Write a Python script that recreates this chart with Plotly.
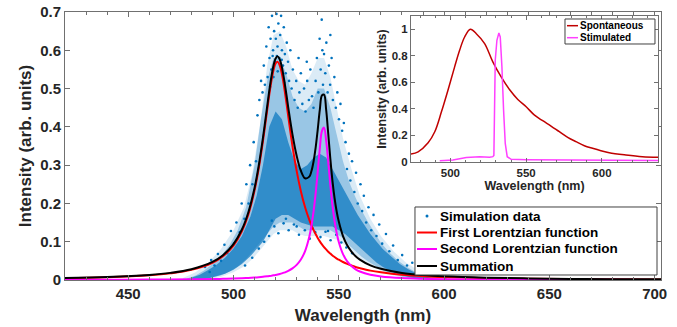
import plotly.graph_objects as go

# ---------------- main panel data ----------------
wl = [420, 440, 460, 470, 480, 490, 495, 500, 504, 507,
      510, 512, 514, 516, 517, 518, 519, 520, 521, 522,
      523, 524, 525, 526, 528, 530, 532, 534, 536, 537,
      538, 539, 540, 541, 542, 543, 544, 545, 546, 547,
      548, 549, 550, 552, 554, 556, 558, 560, 565, 570,
      580, 590, 600, 620, 640, 660, 680, 705]

first_lorentz = [0.0045, 0.0070, 0.0122, 0.0173, 0.0264, 0.0448, 0.0618, 0.0899, 0.1271, 0.1701,
                 0.2337, 0.2915, 0.3630, 0.4439, 0.4840, 0.5197, 0.5481, 0.5655, 0.5697, 0.5600,
                 0.5379, 0.5060, 0.4681, 0.4273, 0.3500, 0.2850, 0.2320, 0.1900, 0.1570, 0.1430,
                 0.1310, 0.1200, 0.1100, 0.1010, 0.0930, 0.0860, 0.0800, 0.0740, 0.0690, 0.0640,
                 0.0600, 0.0560, 0.0530, 0.0470, 0.0420, 0.0380, 0.0340, 0.0310, 0.0245, 0.0200,
                 0.0135, 0.0098, 0.0075, 0.0048, 0.0033, 0.0024, 0.0018, 0.0014]

second_lorentz = [0.0005, 0.0007, 0.0010, 0.0013, 0.0018, 0.0025, 0.0031, 0.0039, 0.0047, 0.0055,
                  0.0066, 0.0075, 0.0086, 0.0097, 0.0104, 0.0112, 0.0122, 0.0132, 0.0144, 0.0158,
                  0.0174, 0.0192, 0.0213, 0.0238, 0.0302, 0.0394, 0.0534, 0.0756, 0.1130, 0.1410,
                  0.1780, 0.2250, 0.2830, 0.3440, 0.3890, 0.3980, 0.3650, 0.3080, 0.2470, 0.1950,
                  0.1540, 0.1230, 0.0995, 0.0678, 0.0486, 0.0363, 0.0280, 0.0223, 0.0137, 0.0093,
                  0.0050, 0.0031, 0.0021, 0.0012, 0.0008, 0.0005, 0.0004, 0.0003]

summation = [0.0050, 0.0077, 0.0132, 0.0186, 0.0282, 0.0473, 0.0649, 0.0938, 0.1318, 0.1756,
             0.2403, 0.2990, 0.3716, 0.4536, 0.4944, 0.5309, 0.5603, 0.5787, 0.5841, 0.5758,
             0.5553, 0.5252, 0.4894, 0.4511, 0.3802, 0.3244, 0.2854, 0.2656, 0.2700, 0.2840,
             0.3090, 0.3450, 0.3930, 0.4450, 0.4820, 0.4840, 0.4450, 0.3820, 0.3160, 0.2590,
             0.2140, 0.1790, 0.1525, 0.1148, 0.0906, 0.0743, 0.0620, 0.0533, 0.0382, 0.0293,
             0.0185, 0.0129, 0.0096, 0.0060, 0.0041, 0.0029, 0.0022, 0.0017]

# simulation-data cloud: faint halo envelope
cloud_halo_wl = [476, 482, 488, 494, 500, 505, 509, 513, 516, 519, 522, 525, 528, 531, 534,
                 537, 540, 543, 546, 549, 552, 556, 560, 565, 570, 576, 582, 588, 594, 600]
cloud_halo_lo = [0.000, 0.000, 0.001, 0.008, 0.020, 0.035, 0.055, 0.080, 0.100, 0.120, 0.130, 0.130,
                 0.130, 0.120, 0.115, 0.115, 0.115, 0.115, 0.110, 0.105, 0.095, 0.075, 0.055, 0.038,
                 0.024, 0.012, 0.005, 0.001, 0.000, 0.000]
cloud_halo_hi = [0.005, 0.020, 0.045, 0.080, 0.130, 0.190, 0.280, 0.420, 0.560, 0.640, 0.650, 0.610,
                 0.550, 0.520, 0.510, 0.540, 0.580, 0.580, 0.530, 0.450, 0.370, 0.290, 0.220, 0.160,
                 0.115, 0.075, 0.045, 0.025, 0.010, 0.004]

# simulation-data cloud: outer (moderately dense) envelope
cloud_outer_wl = [478, 482, 486, 490, 494, 498, 502, 506, 510, 513, 516, 519, 522, 525, 528,
                  531, 534, 537, 540, 543, 546, 549, 552, 555, 558, 561, 564, 567, 570, 574,
                  578, 582, 586, 590, 594, 598]
cloud_outer_lo = [0.000, 0.000, 0.002, 0.006, 0.012, 0.022, 0.035, 0.055, 0.080, 0.100, 0.120, 0.140,
                  0.150, 0.150, 0.150, 0.140, 0.130, 0.130, 0.130, 0.130, 0.130, 0.120, 0.110, 0.090,
                  0.075, 0.060, 0.048, 0.037, 0.028, 0.018, 0.011, 0.006, 0.003, 0.001, 0.000, 0.000]
cloud_outer_hi = [0.004, 0.012, 0.025, 0.042, 0.062, 0.090, 0.130, 0.190, 0.300, 0.420, 0.520, 0.580,
                  0.580, 0.540, 0.480, 0.450, 0.440, 0.460, 0.500, 0.500, 0.450, 0.380, 0.310, 0.255,
                  0.215, 0.180, 0.150, 0.122, 0.097, 0.072, 0.051, 0.035, 0.022, 0.013, 0.007, 0.003]

# simulation-data cloud: dense core envelope
cloud_core_wl = [480, 484, 488, 492, 496, 500, 504, 508, 511, 514, 517, 520, 523, 526, 529,
                 532, 535, 538, 541, 544, 547, 550, 553, 556, 559, 562, 565, 568, 571, 575,
                 579, 583, 587, 591, 595]
cloud_core_lo = [0.000, 0.001, 0.004, 0.009, 0.016, 0.027, 0.042, 0.062, 0.080, 0.100, 0.130, 0.160,
                 0.170, 0.170, 0.160, 0.150, 0.145, 0.140, 0.140, 0.140, 0.140, 0.130, 0.120, 0.105,
                 0.090, 0.073, 0.058, 0.045, 0.034, 0.022, 0.013, 0.007, 0.003, 0.001, 0.000]
cloud_core_hi = [0.006, 0.014, 0.026, 0.040, 0.058, 0.082, 0.115, 0.165, 0.220, 0.300, 0.400, 0.440,
                 0.420, 0.360, 0.310, 0.290, 0.300, 0.320, 0.330, 0.320, 0.290, 0.260, 0.230, 0.200,
                 0.170, 0.145, 0.120, 0.100, 0.080, 0.060, 0.042, 0.028, 0.017, 0.009, 0.004]

# scattered (sparse) simulation points
sim_x = [512.3, 513.1, 513.8, 514.4, 514.9, 515.6, 516.2, 516.7, 517.1, 517.6, 518.0, 518.3, 518.8,
         519.3, 519.7, 520.1, 520.4, 520.9, 521.3, 521.8, 522.2, 522.6, 523.0, 523.5, 523.9, 524.4,
         524.8, 525.3, 525.9, 526.4, 527.0, 527.6, 528.2, 519.0, 521.0, 522.9, 517.4, 520.6, 524.1,
         518.6,
         529.0, 529.8, 530.5, 531.3, 532.0, 532.7, 533.5, 534.2, 535.0, 535.8, 536.5, 537.3, 538.0,
         530.9, 534.8,
         539.0, 539.6, 540.3, 540.9, 541.4, 541.9, 542.5, 543.0, 543.6, 544.1, 544.7, 545.3, 545.9,
         546.6, 547.2, 547.9, 548.6, 549.3, 550.1, 550.8, 551.6, 552.4, 542.2, 546.0,
         553.2, 553.9, 554.8, 555.5, 556.3, 557.4, 558.2, 559.0, 560.3, 561.1, 561.9, 563.0, 564.1,
         565.4, 566.5, 567.9, 569.2, 570.6, 572.4, 574.0, 575.8, 578.0, 580.1, 582.4, 584.9, 587.5,
         590.2, 593.4, 596.8, 600.5,
         486.5, 488.7, 489.4, 491.0, 492.6, 494.1, 495.7, 497.0, 498.8, 500.2, 501.4, 503.0, 503.9,
         505.2, 506.1, 507.2, 507.9, 509.0, 509.6, 510.7, 511.4,
         505.5, 508.9, 512.0, 514.6, 516.9, 519.4, 521.3, 523.8, 526.2, 528.7, 531.1, 533.9, 536.2,
         538.8, 541.3, 543.7, 546.1, 548.8, 551.2, 553.6, 556.4, 518.2, 524.9, 530.0, 537.5, 544.9]
sim_y = [0.47, 0.52, 0.49, 0.56, 0.51, 0.61, 0.53, 0.66, 0.58, 0.63, 0.55, 0.69, 0.60,
         0.65, 0.57, 0.63, 0.695, 0.61, 0.67, 0.58, 0.64, 0.69, 0.60, 0.56, 0.66, 0.59,
         0.54, 0.62, 0.57, 0.52, 0.60, 0.50, 0.55, 0.53, 0.545, 0.575, 0.505, 0.585, 0.515,
         0.585,
         0.47, 0.52, 0.45, 0.49, 0.54, 0.46, 0.50, 0.44, 0.52, 0.47, 0.55, 0.48, 0.45,
         0.58, 0.57,
         0.52, 0.58, 0.49, 0.63, 0.55, 0.68, 0.51, 0.59, 0.54, 0.62, 0.49, 0.56, 0.51,
         0.58, 0.47, 0.53, 0.45, 0.49, 0.42, 0.46, 0.39, 0.41, 0.60, 0.64,
         0.36, 0.29, 0.33, 0.26, 0.31, 0.23, 0.28, 0.20, 0.25, 0.18, 0.22, 0.15, 0.19,
         0.13, 0.17, 0.115, 0.145, 0.095, 0.12, 0.075, 0.09, 0.052, 0.065, 0.038, 0.045, 0.022,
         0.028, 0.011, 0.016, 0.004,
         0.034, 0.021, 0.052, 0.038, 0.068, 0.050, 0.092, 0.070, 0.128, 0.095, 0.150, 0.125, 0.200,
         0.160, 0.250, 0.200, 0.300, 0.250, 0.360, 0.310, 0.430,
         0.038, 0.058, 0.082, 0.100, 0.115, 0.140, 0.122, 0.148, 0.130, 0.145, 0.118, 0.130, 0.108,
         0.125, 0.112, 0.126, 0.104, 0.118, 0.098, 0.085, 0.070, 0.155, 0.160, 0.140, 0.135, 0.128]

# ---------------- inset data ----------------
spont_wl = [474, 478.7, 485.3, 489.7, 494.1, 498.4, 502.8, 506.1, 509.4, 513.2, 517.1, 522.6, 528,
            533.5, 539, 544.5, 550, 555.5, 560.9, 566.4, 571.9, 577.4, 582.9, 588.4, 593.8, 599.3,
            604.8, 615.8, 626.7, 637]
spont_int = [0.060, 0.077, 0.145, 0.228, 0.378, 0.541, 0.717, 0.842, 0.942, 1.000, 0.967, 0.892, 0.754,
             0.641, 0.546, 0.471, 0.416, 0.353, 0.311, 0.271, 0.228, 0.186, 0.153, 0.123, 0.103, 0.085,
             0.070, 0.053, 0.040, 0.035]
stim_wl = [493, 501.7, 510.5, 519.3, 525.9, 528, 528.7, 529.6, 530.7, 532, 532.9, 534, 535.1, 536.2,
           537.5, 540.1, 550, 570, 600, 637]
stim_int = [0.010, 0.015, 0.033, 0.040, 0.035, 0.040, 0.050, 0.767, 0.917, 0.972, 0.942, 0.717, 0.391,
            0.140, 0.040, 0.020, 0.017, 0.015, 0.013, 0.012]

main_names = ["Simulation data", "First Lorentzian function", "Second Lorentzian function", "Summation"]
inset_names = ["Spontaneous", "Stimulated"]

FONT = "Liberation Sans, Arial, sans-serif"
TXT = "#262626"
AX = "#707070"
BLUE = "#0072BD"
RED = "#FF0000"
MAG = "#FF00FF"
SPONT = "#C00000"
STIM = "#FF40FF"

fig = go.Figure()


def band(xs, lo, hi, alpha):
    fig.add_trace(go.Scatter(
        x=xs + xs[::-1], y=lo + hi[::-1], fill="toself",
        fillcolor="rgba(0,114,189,%.2f)" % alpha, line=dict(width=0),
        mode="lines", hoverinfo="skip"))


band(cloud_halo_wl, cloud_halo_lo, cloud_halo_hi, 0.14)
band(cloud_outer_wl, cloud_outer_lo, cloud_outer_hi, 0.30)
band(cloud_core_wl, cloud_core_lo, cloud_core_hi, 0.68)

fig.add_trace(go.Scatter(x=sim_x, y=sim_y, mode="markers", name=main_names[0],
                         marker=dict(color=BLUE, size=2.6, line=dict(width=0))))
fig.add_trace(go.Scatter(x=wl, y=first_lorentz, mode="lines", name=main_names[1],
                         line=dict(color=RED, width=2, shape="spline")))
fig.add_trace(go.Scatter(x=wl, y=second_lorentz, mode="lines", name=main_names[2],
                         line=dict(color=MAG, width=2, shape="spline")))
fig.add_trace(go.Scatter(x=wl, y=summation, mode="lines", name=main_names[3],
                         line=dict(color="#000000", width=2, shape="spline")))

fig.add_trace(go.Scatter(x=spont_wl, y=spont_int, mode="lines", name=inset_names[0],
                         line=dict(color=SPONT, width=1.5, shape="spline"),
                         xaxis="x2", yaxis="y2"))
fig.add_trace(go.Scatter(x=stim_wl, y=stim_int, mode="lines", name=inset_names[1],
                         line=dict(color=STIM, width=1.5),
                         xaxis="x2", yaxis="y2"))

# ---------- compact legends (MATLAB-like), placed in plot-area fractions ----------
shapes = []
annotations = []


def legend_box(x0, x1, y0, y1, rows, labels, styles, fsize, lx0, lx1, tx):
    shapes.append(dict(type="rect", xref="paper", yref="paper", x0=x0, x1=x1, y0=y0, y1=y1,
                       fillcolor="white", line=dict(color="#404040", width=1), layer="above"))
    for yy, lab, st in zip(rows, labels, styles):
        if st == "dot":
            cx = (lx0 + lx1) / 2
            shapes.append(dict(type="circle", xref="paper", yref="paper",
                               x0=cx - 0.0025, x1=cx + 0.0025, y0=yy - 0.0056, y1=yy + 0.0056,
                               fillcolor=BLUE, line=dict(width=0), layer="above"))
        else:
            shapes.append(dict(type="line", xref="paper", yref="paper", x0=lx0, x1=lx1, y0=yy, y1=yy,
                               line=dict(color=st, width=2 if fsize > 11 else 1.5), layer="above"))
        annotations.append(dict(text=lab, xref="paper", yref="paper", x=tx, y=yy, xanchor="left",
                                yanchor="middle", showarrow=False,
                                font=dict(size=fsize, family=FONT, weight="bold", color="#000000")))


legend_box(0.5872, 0.9933, 0.0187, 0.2724, [0.2388, 0.1772, 0.1157, 0.0522],
           main_names, ["dot", RED, MAG, "#000000"], 13.5, 0.5906, 0.6242, 0.6260)
legend_box(0.8389, 0.9899, 0.8806, 0.9739, [0.9489, 0.9041],
           inset_names, [SPONT, STIM], 10, 0.8423, 0.8607, 0.8610)

axis_common = dict(showline=True, linecolor=AX, linewidth=1, mirror="allticks", ticks="inside",
                   tickcolor=AX, showgrid=False, zeroline=False, automargin=False)

fig.update_layout(
    width=677, height=327,
    margin=dict(l=65, r=16, t=12, b=47),
    paper_bgcolor="white", plot_bgcolor="white",
    showlegend=False,
    font=dict(family=FONT, color=TXT, weight="bold"),
    shapes=shapes, annotations=annotations,
    xaxis=dict(range=[420, 703], tick0=450, dtick=50, ticklen=5,
               minor=dict(dtick=10, ticklen=3, ticks="inside", tickcolor=AX),
               tickfont=dict(size=15, family=FONT, weight="bold", color=TXT),
               title=dict(text="Wavelength (nm)", font=dict(size=17, family=FONT, weight="bold", color=TXT),
                          standoff=8),
               **axis_common),
    yaxis=dict(range=[0, 0.7], dtick=0.1, ticklen=5,
               tickfont=dict(size=15, family=FONT, weight="bold", color=TXT),
               title=dict(text="Intensity (arb. units)", font=dict(size=17, family=FONT, weight="bold", color=TXT),
                          standoff=4),
               **axis_common),
    xaxis2=dict(domain=[0.5805, 0.995], anchor="y2", range=[474, 637], tick0=500, dtick=50, ticklen=4,
                minor=dict(dtick=10, ticklen=2, ticks="inside", tickcolor=AX),
                tickfont=dict(size=11.5, family=FONT, weight="bold", color=TXT),
                title=dict(text="Wavelength (nm)", font=dict(size=12.5, family=FONT, weight="bold", color=TXT),
                           standoff=3),
                **axis_common),
    yaxis2=dict(domain=[0.4403, 0.985], anchor="x2", range=[0, 1.1], dtick=0.2, ticklen=4,
                tickfont=dict(size=11.5, family=FONT, weight="bold", color=TXT),
                title=dict(text="Intensity (arb. units)", font=dict(size=12.5, family=FONT, weight="bold", color=TXT),
                           standoff=2),
                **axis_common),
)

fig.write_html("out.html")
